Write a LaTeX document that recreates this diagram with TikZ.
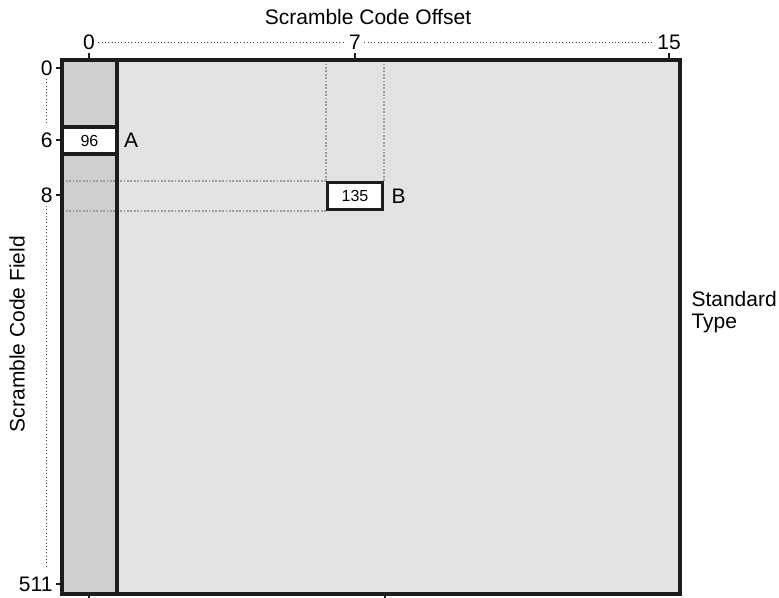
\documentclass[tikz,border=0pt]{standalone}
\usepackage{fontspec}
\setmainfont{Liberation Sans}
\usetikzlibrary{positioning, backgrounds}

\definecolor{fieldlight}{HTML}{E2E3E5}
\definecolor{fielddark}{HTML}{CFCFD2}
\definecolor{framegray}{HTML}{1C1C1C}

\begin{document}
\begin{tikzpicture}[
  x=1pt, y=-1pt,
  font=\fontsize{21}{22}\selectfont,
  frame/.style={draw=framegray, line width=3.2pt},
  cell/.style={
    draw=framegray, fill=white, line width=3.2pt,
    minimum width=55pt, minimum height=27pt, inner sep=0pt,
    font=\fontsize{16}{18}\selectfont
  },
  guide/.style={draw=gray!75, line width=1.8pt, dash pattern=on 1.8pt off 1.6pt},
  axisline/.style={draw=black!75, line width=1pt, dash pattern=on 1pt off 2.3pt},
  tick/.style={draw=framegray, line width=2.6pt},
]
\useasboundingbox (0,0) rectangle (779,597);

% Frame corners and titles
\coordinate (nw) at (62,60);
\coordinate (se) at (680,594);
\node (title) at (368,17) {Scramble Code Offset};
\node[rotate=90] (field) at (17,334) {Scramble Code Field};
\node[anchor=west, align=left] (std) at (688,312) {Standard\\Type};

% Cells with their letters
\node[cell] (a) at (89.5,140.5) {96};
\node[right=2pt of a] (la) {A};
\node[cell] (b) at (355,196) {135};
\node[right=4pt of b] (lb) {B};

% Shaded field, first column darker, dotted guides to cell B
\begin{scope}[on background layer]
  \fill[fieldlight] (nw) rectangle (se);
  \fill[fielddark] (nw) rectangle (117,594);
  \draw[guide] (b.north west) -- (b.north west |- nw);
  \draw[guide] (b.north east) -- (b.north east |- nw);
  \draw[guide] (b.north west) -- (b.north west -| nw);
  \draw[guide] (b.south west) -- (b.south west -| nw);
  \draw[frame] (nw) rectangle (se);
  \draw[frame] (117,60) -- (117,594);
\end{scope}

% Top axis
\node (t0) at (89,42) {0};
\node (t7) at (355,42) {7};
\node (t15) at (669,42) {15};
\draw[axisline] (t0) -- (t7);
\draw[axisline] (t7) -- (t15);
\draw[tick] (t0.south) -- (t0.south |- nw);
\draw[tick] (t7.south) -- (t7.south |- nw);
\draw[tick] (t15.south) -- (t15.south |- nw);

% Left axis
\node[anchor=east] (l0) at (56,68) {0};
\node[anchor=east] (l6) at (56,140) {6};
\node[anchor=east] (l8) at (56,195) {8};
\node[anchor=east] (l511) at (56,584) {511};
\foreach \n in {l0, l6, l8, l511}
  \draw[tick] (\n.east) -- (\n.east -| nw);
\draw[axisline, shorten >=6pt] (l0.south) -- (l6.north);
\draw[axisline, shorten >=6pt] (l8.south) -- (l8.south |- l511.north);

% Bottom ticks
\draw[tick] (t0 |- se) -- ++(0,5);
\draw[tick] (385,594) -- ++(0,5);

\end{tikzpicture}
\end{document}
